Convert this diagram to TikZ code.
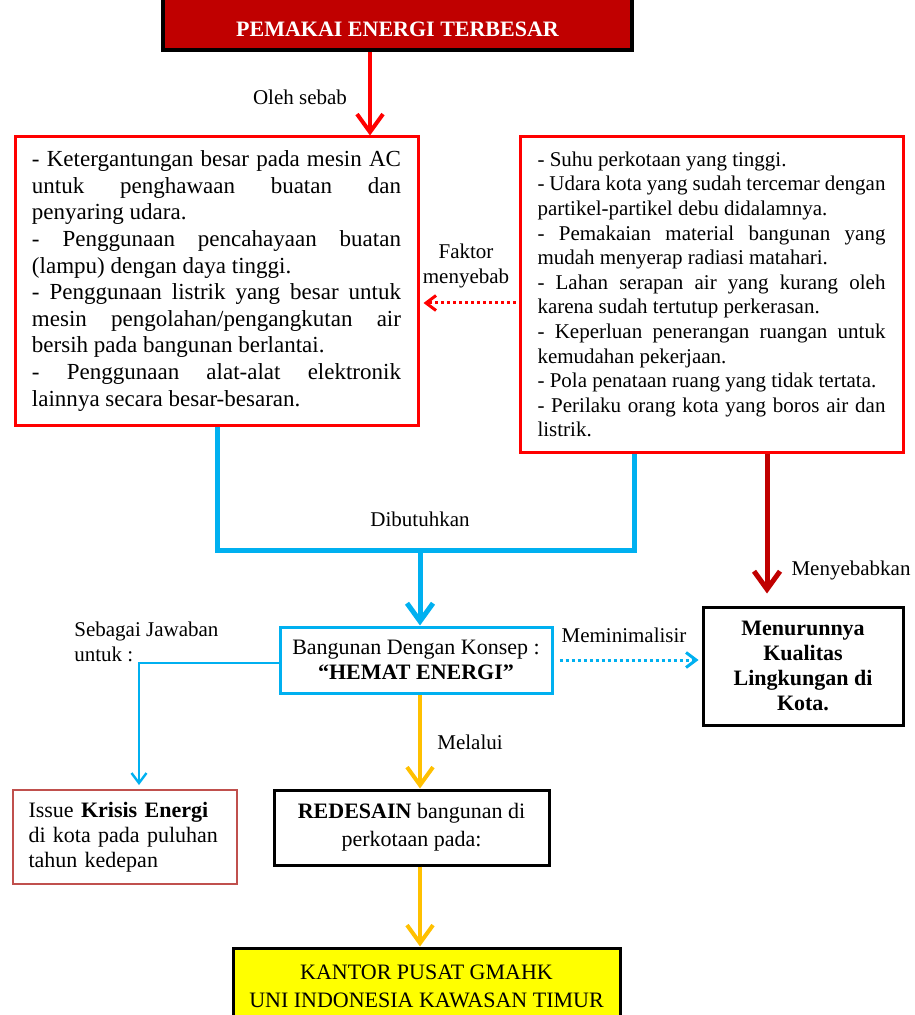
\documentclass[tikz,border=0pt]{standalone}
\usepackage{fontspec}
\setmainfont{Liberation Serif}
\usetikzlibrary{arrows.meta}
\definecolor{merah}{HTML}{FF0000}
\definecolor{merahtua}{HTML}{C00000}
\definecolor{biru}{HTML}{00B0F0}
\definecolor{oranye}{HTML}{FFC000}
\definecolor{kuning}{HTML}{FFFF00}
\definecolor{merahbata}{HTML}{C0504D}
\hyphenpenalty=10000
\hbadness=10000
\setlength{\parindent}{0pt}
\begin{document}
\begin{tikzpicture}[x=0.5pt,y=-0.5pt]
\tikzstyle{kotak}=[draw,line width=1.5pt,inner sep=0pt,font=\fontsize{11}{12.5}\selectfont]
\tikzstyle{lbl}=[inner sep=0pt,align=center,font=\fontsize{10.5}{12.5}\selectfont]
\tikzstyle{panah}=[-{Straight Barb[length=9pt,width=13pt]}]
\tikzstyle{panahkecil}=[-{Straight Barb[length=5pt,width=7.5pt]}]
\tikzstyle{titik}=[dash pattern=on 1.5pt off 1.5pt]
\useasboundingbox (0,0) rectangle (914,1015);
\clip (0,0) rectangle (914,1015);
\node[kotak,fill=merahtua,draw=black,line width=2pt,text=white,font=\bfseries\fontsize{11}{13}\selectfont,minimum width=234.5pt,minimum height=50pt,text height=37pt,text depth=0pt] (judul) at (397.5,0) {PEMAKAI ENERGI TERBESAR};
\node[kotak,draw=merah,text width=184.5pt,inner xsep=8.5pt,minimum height=144pt,align=justify,font=\fontsize{11.5}{13.3}\selectfont] (sebab) at (216.5,281) {- Ketergantungan besar pada mesin AC\linebreak untuk penghawaan buatan dan\linebreak penyaring udara.\par - Penggunaan pencahayaan buatan\linebreak (lampu) dengan daya tinggi.\par - Penggunaan listrik yang besar untuk\linebreak mesin pengolahan/pengangkutan air\linebreak bersih pada bangunan berlantai.\par - Penggunaan alat-alat elektronik\linebreak lainnya secara besar-besaran.};
\node[kotak,draw=merah,text width=174pt,inner xsep=8.75pt,minimum height=157.5pt,align=justify,font=\fontsize{10.5}{12.3}\selectfont] (faktor) at (711.5,294.5) {- Suhu perkotaan yang tinggi.\par - Udara kota yang sudah tercemar dengan\linebreak partikel-partikel debu didalamnya.\par - Pemakaian material bangunan yang\linebreak mudah menyerap radiasi matahari.\par - Lahan serapan air yang kurang oleh\linebreak karena sudah tertutup perkerasan.\par - Keperluan penerangan ruangan untuk\linebreak kemudahan pekerjaan.\par - Pola penataan ruang yang tidak tertata.\par - Perilaku orang kota yang boros air dan\linebreak listrik.};
\node[kotak,draw=biru,minimum width=136pt,minimum height=33pt,align=center] (hemat) at (416,660) {Bangunan Dengan Konsep :\\\textbf{“HEMAT ENERGI”}};
\node[kotak,minimum width=100pt,minimum height=59pt,align=center,font=\bfseries\fontsize{11}{12.5}\selectfont] (turun) at (803,666) {Menurunnya\\Kualitas\\Lingkungan di\\Kota.};
\node[kotak,draw=merahbata,line width=1pt,text width=96pt,inner xsep=8pt,minimum height=47pt,align=left] (issue) at (124.5,837) {Issue \textbf{Krisis Energi}\\di kota pada puluhan\\tahun kedepan};
\node[kotak,minimum width=137.5pt,minimum height=37.5pt,align=center,font=\fontsize{11}{14}\selectfont] (redesain) at (411.5,827.5) {\textbf{REDESAIN} bangunan di\\perkotaan pada:};
\node[kotak,fill=kuning,minimum width=193.5pt,minimum height=38pt,align=center,font=\fontsize{11}{14}\selectfont] (kantor) at (426.5,986) {KANTOR PUSAT GMAHK\\UNI INDONESIA KAWASAN TIMUR};
\coordinate (temu) at (420,550);
\coordinate (jwb) at (139,663);
\foreach \name/\point/\teks in {
	oleh/{300,97}/{Oleh sebab},
	fkt/{466,266}/{Faktor\\menyebab},
	butuh/{420,519}/{Dibutuhkan},
	nyebab/{851,570}/{Menyebabkan},
	minim/{624,635}/{Meminimalisir},
	lalui/{470,742}/{Melalui}}
	\node[lbl] (\name) at (\point) {\teks};
\node[lbl,align=left,anchor=north west] (jawab) at (74,622) {Sebagai Jawaban\\untuk :};
\draw[panah,merah,line width=2pt] (judul.south -| 370,0) -- (sebab.north -| 370,0);
\draw[panahkecil,merah,titik,line width=1.5pt,shorten <=1.5pt,shorten >=2pt] (faktor.west |- 0,303) -- (sebab.east |- 0,303);
\draw[biru,line width=2.5pt] (sebab.south -| 217,0) |- (temu) -| (faktor.south -| 634,0);
\draw[panah,biru,line width=2.5pt] (temu) -- (hemat.north -| temu);
\draw[panah,merahtua,line width=2.5pt,shorten >=6pt] (faktor.south -| 767,0) -- (turun.north -| 767,0);
\draw[panahkecil,biru,titik,line width=1.5pt,shorten <=3pt,shorten >=1.5pt] (hemat.east) -- (turun.west |- hemat.east);
\draw[panahkecil,biru,line width=1.2pt,shorten >=2pt] (hemat.west |- jwb) -- (jwb) -- (jwb |- issue.north);
\draw[panah,oranye,line width=2pt] (hemat.south -| temu) -- (redesain.north -| temu);
\draw[panah,oranye,line width=2pt] (redesain.south -| temu) -- (kantor.north -| temu);
\end{tikzpicture}
\end{document}
